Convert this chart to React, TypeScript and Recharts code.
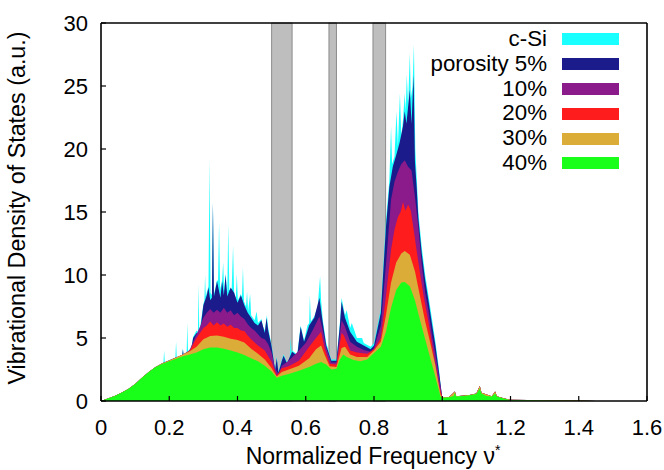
import { AreaChart, Area, XAxis, YAxis, ReferenceArea, Legend, Label } from "recharts";

const FONT = "'Liberation Sans', Arial, sans-serif";

const X_TICKS = [0, 0.2, 0.4, 0.6, 0.8, 1, 1.2, 1.4, 1.6];
const Y_TICKS = [0, 5, 10, 15, 20, 25, 30];

// band gaps of c-Si (grey stripes)
const GAPS = [
  [0.5, 0.56],
  [0.668, 0.69],
  [0.797, 0.834],
];

// acoustic rise, common to all samples
const RISE = [
  [0, 0], [0.02, 0.2], [0.04, 0.4], [0.06, 0.65], [0.08, 0.95], [0.1, 1.35],
  [0.12, 1.85], [0.14, 2.3], [0.16, 2.7],
];

const TAIL_40 = [
  [1.02, 0.3], [1.033, 0.4], [1.037, 0.65], [1.041, 0.35], [1.06, 0.4], [1.08, 0.45],
  [1.1, 0.55], [1.11, 1.0], [1.115, 0.6], [1.13, 0.4], [1.145, 0.35], [1.155, 0.6],
  [1.16, 0.35], [1.18, 0.2], [1.2, 0.08], [1.3, 0.04], [1.4, 0.02], [1.45, 0],
];

const TAIL = [
  [1.02, 0.32], [1.037, 0.75], [1.041, 0.38], [1.08, 0.48], [1.1, 0.6], [1.11, 1.2],
  [1.115, 0.65], [1.145, 0.38], [1.155, 0.75], [1.16, 0.38], [1.18, 0.22], [1.2, 0.09],
  [1.3, 0.05], [1.4, 0.03], [1.45, 0],
];

const P40 = [
  [0.18, 2.95], [0.2, 3.15], [0.22, 3.35], [0.24, 3.55], [0.26, 3.7], [0.28, 3.85],
  [0.3, 4.1], [0.32, 4.25], [0.34, 4.25], [0.36, 4.15], [0.38, 4.0], [0.4, 3.85],
  [0.42, 3.65], [0.44, 3.4], [0.46, 3.15], [0.48, 2.8], [0.5, 2.35], [0.515, 1.85],
  [0.53, 2.0], [0.55, 2.15], [0.58, 2.4], [0.61, 2.7], [0.63, 2.95], [0.645, 3.1],
  [0.66, 2.9], [0.675, 2.5], [0.69, 2.55], [0.7, 3.3], [0.71, 3.7], [0.72, 3.5],
  [0.74, 3.25], [0.76, 3.15], [0.78, 3.3], [0.8, 3.8], [0.82, 4.3], [0.835, 5.5],
  [0.85, 7.4], [0.865, 8.8], [0.88, 9.4], [0.89, 9.45], [0.905, 9.1], [0.92, 8.0],
  [0.935, 6.4], [0.95, 4.9], [0.965, 3.4], [0.98, 1.9], [0.995, 0.35], [1.0, 0.25],
];

const P30 = [
  [0.18, 3.0], [0.2, 3.22], [0.22, 3.45], [0.24, 3.7], [0.26, 3.95], [0.28, 4.3],
  [0.29, 4.6], [0.3, 4.9], [0.32, 5.15], [0.34, 5.2], [0.36, 5.1], [0.38, 4.95],
  [0.4, 4.85], [0.42, 4.65], [0.44, 4.15], [0.46, 3.75], [0.48, 3.3], [0.5, 2.6],
  [0.515, 1.95], [0.53, 2.3], [0.55, 2.5], [0.58, 2.8], [0.61, 3.4], [0.63, 4.1],
  [0.645, 4.4], [0.655, 3.7], [0.67, 2.75], [0.69, 2.7], [0.705, 4.2], [0.715, 4.3],
  [0.73, 3.7], [0.75, 3.5], [0.78, 3.5], [0.8, 4.0], [0.82, 4.7], [0.835, 6.8],
  [0.85, 9.4], [0.865, 11.0], [0.88, 11.7], [0.89, 11.9], [0.905, 11.6], [0.92, 10.3],
  [0.935, 8.3], [0.95, 6.3], [0.965, 4.6], [0.98, 2.8], [0.995, 0.5], [1.0, 0.3],
];

const P20 = [
  [0.18, 3.0], [0.2, 3.22], [0.22, 3.45], [0.24, 3.7], [0.26, 3.98], [0.27, 4.5],
  [0.28, 5.0], [0.29, 5.4], [0.3, 5.8], [0.31, 6.0], [0.32, 6.3], [0.33, 6.0],
  [0.34, 6.25], [0.35, 6.0], [0.36, 6.15], [0.37, 5.9], [0.38, 6.05], [0.39, 5.8],
  [0.4, 5.8], [0.41, 5.6], [0.42, 5.55], [0.43, 5.2], [0.44, 4.9], [0.46, 4.4],
  [0.48, 4.0], [0.5, 3.1], [0.515, 2.0], [0.53, 2.6], [0.55, 2.75], [0.58, 3.2],
  [0.61, 4.3], [0.63, 5.0], [0.645, 5.5], [0.655, 4.2], [0.67, 2.95], [0.69, 2.9],
  [0.705, 5.4], [0.712, 5.2], [0.73, 4.0], [0.75, 3.85], [0.78, 3.75], [0.8, 4.1],
  [0.82, 5.0], [0.835, 8.3], [0.85, 12.0], [0.86, 13.6], [0.87, 14.6], [0.878, 15.0],
  [0.885, 15.8], [0.892, 15.1], [0.9, 15.6], [0.908, 15.1], [0.915, 13.8], [0.93, 11.0],
  [0.945, 8.4], [0.96, 6.2], [0.975, 3.7], [0.99, 1.3], [1.0, 0.3],
];

const P10 = [
  [0.18, 3.0], [0.2, 3.22], [0.22, 3.45], [0.24, 3.7], [0.25, 3.85], [0.26, 4.05],
  [0.27, 4.7], [0.28, 5.3], [0.29, 5.9], [0.3, 6.6], [0.31, 7.0], [0.32, 7.3],
  [0.33, 7.0], [0.34, 7.25], [0.35, 7.0], [0.36, 7.4], [0.37, 7.0], [0.38, 7.2],
  [0.39, 6.8], [0.4, 7.0], [0.41, 6.7], [0.42, 6.5], [0.43, 6.1], [0.44, 5.8],
  [0.45, 5.6], [0.46, 5.3], [0.47, 5.0], [0.48, 4.9], [0.49, 4.5], [0.5, 3.8],
  [0.51, 2.6], [0.52, 2.15], [0.53, 2.8], [0.55, 3.2], [0.58, 4.0], [0.6, 4.6],
  [0.62, 5.6], [0.64, 6.7], [0.65, 5.6], [0.66, 4.2], [0.675, 3.05], [0.69, 3.05],
  [0.705, 6.4], [0.715, 5.9], [0.73, 4.7], [0.75, 4.3], [0.77, 4.05], [0.79, 3.9],
  [0.8, 4.2], [0.82, 6.0], [0.835, 10.8], [0.85, 16.0], [0.86, 17.4], [0.87, 18.2],
  [0.88, 18.8], [0.89, 19.1], [0.9, 18.6], [0.91, 18.3], [0.92, 16.2], [0.93, 13.8],
  [0.94, 10.8], [0.95, 8.6], [0.96, 7.1], [0.97, 5.2], [0.98, 3.7], [0.99, 2.0],
  [1.0, 0.3],
];

const P5 = [
  [0.18, 3.0], [0.2, 3.22], [0.22, 3.45], [0.238, 3.6], [0.24, 4.1], [0.242, 3.65],
  [0.26, 3.95], [0.265, 4.2], [0.27, 5.0], [0.28, 5.4], [0.29, 5.3], [0.295, 6.5],
  [0.3, 7.6], [0.31, 8.4], [0.315, 9.0], [0.32, 8.0], [0.325, 8.2], [0.328, 15.7],
  [0.331, 8.3], [0.34, 9.5], [0.35, 8.2], [0.355, 9.5], [0.36, 8.4], [0.365, 10.0],
  [0.37, 8.3], [0.38, 9.0], [0.39, 8.6], [0.4, 7.8], [0.41, 8.4], [0.42, 7.6],
  [0.43, 7.0], [0.44, 6.6], [0.45, 6.2], [0.46, 6.0], [0.47, 6.4], [0.48, 5.4],
  [0.485, 6.6], [0.49, 5.6], [0.5, 4.3], [0.505, 3.4], [0.51, 2.4], [0.515, 3.4],
  [0.52, 2.25], [0.53, 3.2], [0.535, 3.6], [0.545, 3.0], [0.56, 3.9], [0.575, 3.6],
  [0.585, 5.9], [0.595, 4.7], [0.61, 6.0], [0.625, 6.6], [0.64, 8.2], [0.65, 6.2],
  [0.66, 4.4], [0.675, 3.2], [0.69, 3.2], [0.7, 6.0], [0.705, 7.9], [0.715, 6.6],
  [0.73, 5.5], [0.75, 4.7], [0.77, 4.4], [0.79, 4.1], [0.8, 4.4], [0.82, 7.0],
  [0.835, 13.8], [0.845, 17.0], [0.855, 18.6], [0.865, 19.5], [0.875, 20.5], [0.885, 21.8],
  [0.89, 23.0], [0.895, 22.0], [0.905, 24.7], [0.91, 22.0], [0.916, 25.9], [0.92, 19.0],
  [0.925, 17.0], [0.93, 14.5], [0.94, 11.7], [0.95, 9.6], [0.96, 7.9], [0.97, 6.1],
  [0.98, 4.4], [0.99, 2.4], [1.0, 0.3],
];

const PSI = [
  [0.18, 3.0], [0.183, 3.05], [0.185, 4.0], [0.187, 3.1], [0.2, 3.25], [0.218, 3.45],
  [0.22, 4.7], [0.222, 3.5], [0.238, 3.65], [0.24, 4.15], [0.242, 3.7], [0.251, 3.9],
  [0.253, 6.2], [0.255, 3.95], [0.265, 4.3], [0.27, 5.1], [0.28, 5.6], [0.284, 5.5],
  [0.286, 9.3], [0.288, 5.5], [0.295, 6.7], [0.3, 7.7], [0.303, 8.0], [0.305, 10.0],
  [0.307, 8.3], [0.315, 9.1], [0.318, 19.2], [0.321, 8.6], [0.325, 8.4], [0.328, 15.8],
  [0.331, 8.5], [0.34, 9.6], [0.343, 9.5], [0.346, 14.2], [0.349, 8.8], [0.355, 9.6],
  [0.358, 11.0], [0.361, 8.6], [0.365, 10.1], [0.37, 8.6], [0.373, 14.0], [0.376, 8.8],
  [0.383, 8.9], [0.387, 12.3], [0.39, 8.7], [0.395, 8.1], [0.398, 10.1], [0.401, 8.0],
  [0.41, 8.5], [0.413, 8.2], [0.416, 10.6], [0.419, 7.9], [0.425, 7.5], [0.428, 8.7],
  [0.431, 7.1], [0.437, 8.5], [0.44, 6.8], [0.45, 6.4], [0.456, 7.1], [0.46, 6.2],
  [0.47, 6.5], [0.475, 5.9], [0.48, 5.6], [0.486, 6.8], [0.49, 5.8], [0.5, 4.4],
  [0.505, 3.5], [0.51, 2.5], [0.515, 3.5], [0.52, 2.3], [0.53, 3.3], [0.535, 3.7],
  [0.545, 3.1], [0.553, 3.3], [0.556, 5.0], [0.559, 3.6], [0.56, 4.0], [0.575, 3.7],
  [0.585, 6.0], [0.595, 4.8], [0.605, 6.0], [0.61, 6.2], [0.612, 8.4], [0.615, 6.3],
  [0.625, 6.7], [0.635, 7.5], [0.642, 9.9], [0.645, 8.0], [0.65, 6.4], [0.66, 4.6],
  [0.675, 3.3], [0.69, 3.3], [0.7, 6.2], [0.705, 8.2], [0.715, 6.8], [0.72, 7.2],
  [0.73, 5.8], [0.735, 6.2], [0.75, 5.0], [0.765, 5.0], [0.77, 4.6], [0.79, 4.3],
  [0.8, 4.6], [0.82, 7.3], [0.835, 14.3], [0.845, 17.5], [0.85, 21.8], [0.853, 18.8],
  [0.86, 19.4], [0.866, 23.0], [0.87, 20.2], [0.876, 24.4], [0.88, 21.0], [0.885, 22.3],
  [0.89, 24.4], [0.893, 23.0], [0.896, 25.9], [0.9, 23.5], [0.905, 27.6], [0.908, 24.0],
  [0.913, 25.0], [0.917, 28.3], [0.921, 20.0], [0.925, 17.8], [0.93, 15.0], [0.94, 12.2],
  [0.95, 10.0], [0.96, 8.3], [0.97, 6.5], [0.98, 4.7], [0.99, 2.6], [0.998, 0.5],
  [1.0, 0.3],
];

const SERIES = [
  { name: "c-Si", color: "#1affff", pts: [...RISE, ...PSI, ...TAIL] },
  { name: "porosity 5%", color: "#1b1b8c", pts: [...RISE, ...P5, ...TAIL] },
  { name: "10%", color: "#8b1a8b", pts: [...RISE, ...P10, ...TAIL] },
  { name: "20%", color: "#ff1c1c", pts: [...RISE, ...P20, ...TAIL] },
  { name: "30%", color: "#dcac38", pts: [...RISE, ...P30, ...TAIL] },
  { name: "40%", color: "#1aff1a", pts: [...RISE, ...P40, ...TAIL_40] },
];

const axisLine = { stroke: "#000", strokeWidth: 1.6 };
const tickLine = { stroke: "#000", strokeWidth: 1.2 };
const tickStyle = { fill: "#000", fontSize: 22, fontFamily: FONT };

function LegendBox() {
  return (
    <div style={{ fontFamily: FONT, fontSize: 22.3, color: "#000" }}>
      {SERIES.map((s) => (
        <div
          key={s.name}
          style={{ display: "flex", alignItems: "center", justifyContent: "flex-end", height: 24.8, lineHeight: "24.8px" }}
        >
          <span style={{ marginRight: 15 }}>{s.name}</span>
          <span style={{ display: "inline-block", width: 57, height: 12, background: s.color }} />
        </div>
      ))}
    </div>
  );
}

export default function App() {
  return (
    <div style={{ position: "absolute", left: 0, top: 0 }}>
      <AreaChart width={664} height={470} margin={{ top: 22, right: 16, bottom: 0, left: 0 }}>
        <XAxis
          dataKey="x"
          type="number"
          domain={[0, 1.6]}
          ticks={X_TICKS}
          interval={0}
          allowDataOverflow
          height={69}
          tickSize={-5}
          tickMargin={23}
          axisLine={axisLine}
          tickLine={tickLine}
          tick={tickStyle}
        >
          <Label
            content={() => (
              <text x={373} y={464} textAnchor="middle" fontSize={23} fontFamily={FONT} fill="#000">
                Normalized Frequency ν
                <tspan dy={-9} fontSize={14}>*</tspan>
              </text>
            )}
          />
        </XAxis>
        <XAxis
          xAxisId="top"
          orientation="top"
          dataKey="x"
          type="number"
          domain={[0, 1.6]}
          ticks={X_TICKS}
          interval={0}
          allowDataOverflow
          height={1}
          tickSize={-5}
          axisLine={axisLine}
          tickLine={tickLine}
          tick={false}
        />
        <YAxis
          type="number"
          domain={[0, 30]}
          ticks={Y_TICKS}
          interval={0}
          allowDataOverflow
          width={101}
          tickSize={-5}
          tickMargin={18}
          axisLine={axisLine}
          tickLine={tickLine}
          tick={tickStyle}
        >
          <Label
            content={() => (
              <text
                x={25}
                y={208}
                transform="rotate(-90 25 208)"
                textAnchor="middle"
                fontSize={23.3}
                fontFamily={FONT}
                fill="#000"
              >
                Vibrational Density of States (a.u.)
              </text>
            )}
          />
        </YAxis>
        <YAxis
          yAxisId="right"
          orientation="right"
          type="number"
          domain={[0, 30]}
          ticks={Y_TICKS}
          interval={0}
          width={1}
          tickSize={-5}
          axisLine={axisLine}
          tickLine={tickLine}
          tick={false}
        />
        {GAPS.map(([a, b]) => (
          <ReferenceArea
            key={a}
            x1={a}
            x2={b}
            y1={0}
            y2={30}
            fill="#bebebe"
            fillOpacity={1}
            stroke="#8c8c8c"
            strokeWidth={1}
            zIndex={-1}
          />
        ))}
        {SERIES.map((s) => (
          <Area
            key={s.name}
            name={s.name}
            data={s.pts.map(([x, y]) => ({ x, y }))}
            dataKey="y"
            type="linear"
            fill={s.color}
            fillOpacity={1}
            stroke="none"
            dot={false}
            activeDot={false}
            isAnimationActive={false}
          />
        ))}
        <Legend
          layout="vertical"
          align="center"
          verticalAlign="middle"
          width={300}
          wrapperStyle={{ left: 319, top: 27 }}
          content={() => <LegendBox />}
        />
      </AreaChart>
    </div>
  );
}
